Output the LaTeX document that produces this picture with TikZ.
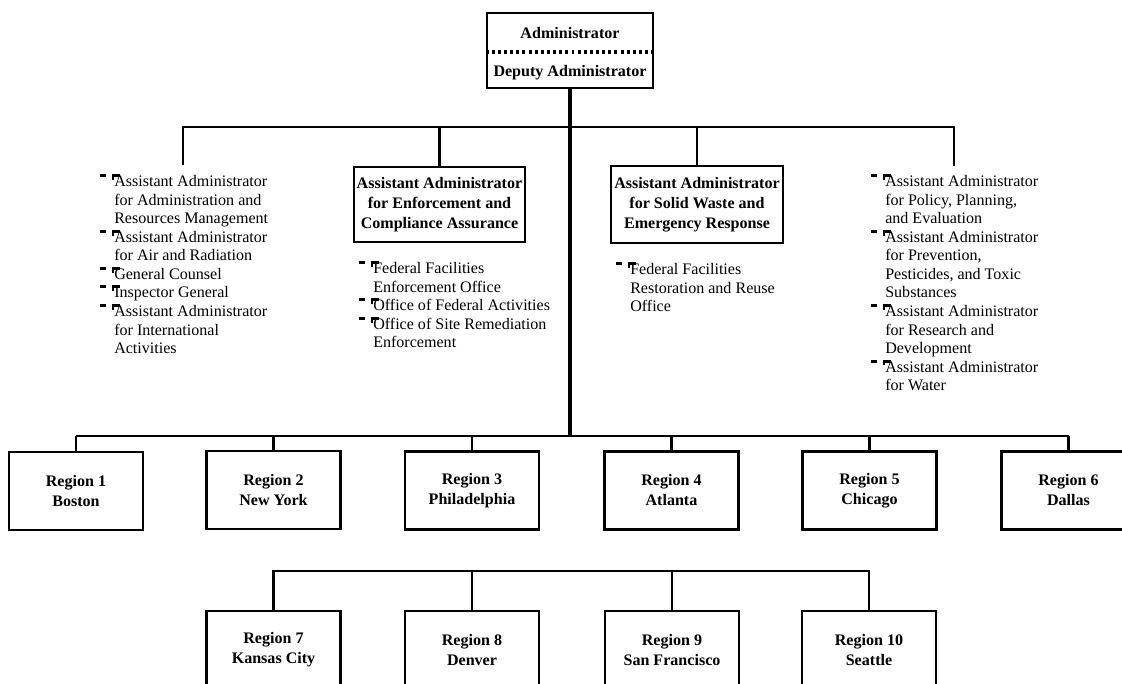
\documentclass[tikz,border=0pt]{standalone}
\usepackage{fontspec}
\setmainfont{Liberation Serif}
\usetikzlibrary{calc}
\newcommand\bul{\makebox[0pt][l]{\hspace{-10.5pt}\rule[7.2pt]{4.5pt}{2.2pt}\hspace{4.5pt}\rule[7.2pt]{6pt}{2.2pt}}\makebox[0pt][l]{\hspace{-1.5pt}\rule[5pt]{1.6pt}{4.4pt}}}
\begin{document}
\begin{tikzpicture}[x=0.75pt,y=-0.75pt,
  box/.style={draw, line width=2pt, align=center, inner sep=0pt, font=\bfseries\fontsize{12bp}{15pt}\selectfont},
  reg/.style={box, minimum width=100.5pt, minimum height=58.5pt},
  btxt/.style={inner sep=0pt, font=\bfseries\fontsize{12bp}{15pt}\selectfont},
  lst/.style={anchor=north west, align=left, inner sep=0pt, font=\fontsize{12bp}{13.9pt}\selectfont},
  conn/.style={line width=1.7pt},
  trunk/.style={line width=2.5pt},
  bar/.style={line width=2.2pt}]
\useasboundingbox (0,0) rectangle (1122,684);
\clip (0,0) rectangle (1122,684);

% Administrator box
\node[box, minimum width=124.5pt, minimum height=56.25pt] (admin) at (570,50.5) {};
\node[btxt] (admt1) at (570,33) {Administrator};
\node[btxt] (admt2) at (570,73) {Deputy Administrator};
\draw[line width=2.4pt, dash pattern=on 2.2pt off 2.4pt] (admin.west |- 0,52) -- (admin.east |- 0,52);

% Assistant administrator boxes
\node[box, minimum width=128.25pt, minimum height=56.25pt] (eca) at (439.5,204.5)
  {Assistant Administrator\\for Enforcement and\\Compliance Assurance};
\node[box, minimum width=129pt, minimum height=57.75pt] (swer) at (697,204.5)
  {Assistant Administrator\\for Solid Waste and\\Emergency Response};

% Lists
\node[lst] (llist) at (114,174) {\bul Assistant Administrator\\for Administration and\\Resources Management\\\bul Assistant Administrator\\for Air and Radiation\\\bul General Counsel\\\bul Inspector General\\\bul Assistant Administrator\\for International\\Activities};
\node[lst] (elist) at (373,261) {\bul Federal Facilities\\Enforcement Office\\\bul Office of Federal Activities\\\bul Office of Site Remediation\\Enforcement};
\node[lst] (slist) at (630,262) {\bul Federal Facilities\\Restoration and Reuse\\Office};
\node[lst] (rlist) at (885,174) {\bul Assistant Administrator\\for Policy, Planning,\\and Evaluation\\\bul Assistant Administrator\\for Prevention,\\Pesticides, and Toxic\\Substances\\\bul Assistant Administrator\\for Research and\\Development\\\bul Assistant Administrator\\for Water};

\coordinate (lend) at (183,165);
\coordinate (rend) at (954,166);
\coordinate (tbar) at (570,127);
\coordinate (rbar) at (570,436);

% Regions row 1
\node[reg] (r1) at (76,491) {Region 1\\Boston};
\node[reg] (r2) at (273.5,490) {Region 2\\New York};
\node[reg] (r3) at (472,490.5) {Region 3\\Philadelphia};
\node[reg] (r4) at (671.5,490.5) {Region 4\\Atlanta};
\node[reg] (r5) at (869.5,490.5) {Region 5\\Chicago};
\node[reg] (r6) at (1068.5,490.5) {Region 6\\Dallas};
% Regions row 2
\node[reg] (r7) at (273.5,650) {Region 7\\Kansas City};
\node[reg] (r8) at (472,650) {Region 8\\Denver};
\node[reg] (r9) at (672,650) {Region 9\\San Francisco};
\node[reg] (r10) at (869,650) {Region 10\\Seattle};

% Connectors
\draw[trunk] (admin.south) -- (rbar);
\draw[conn] (lend) |- (tbar) -| (rend);
\draw[conn] (eca.north) -- (eca.north |- tbar);
\draw[conn] (swer.north) -- (swer.north |- tbar);
\draw[bar] (r1.north |- rbar) -- (r6.north |- rbar);
\foreach \r in {r1,r2,r3,r4,r5,r6}{
  \draw[conn] (\r.north) -- (\r.north |- rbar);
}
\coordinate (sbar) at (570,571);
\draw[conn] (r7.north) |- (sbar) -| (r10.north);
\draw[conn] (r8.north) -- (r8.north |- sbar);
\draw[conn] (r9.north) -- (r9.north |- sbar);
\end{tikzpicture}
\end{document}
